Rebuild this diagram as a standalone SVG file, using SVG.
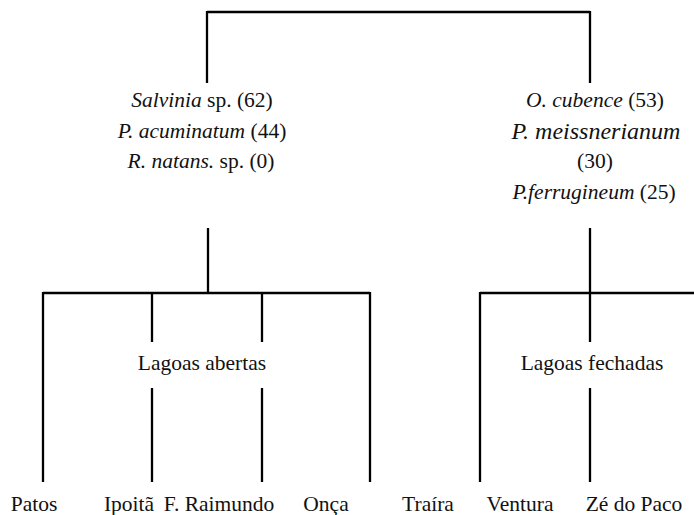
<svg xmlns="http://www.w3.org/2000/svg" width="694" height="515" viewBox="0 0 694 515">
<style>
.t text{font-size:21.5px;fill:#111;text-anchor:middle}
.i{font-style:italic}
.c line{stroke:#000;stroke-width:2.3;fill:none}
</style>
<rect width="694" height="515" fill="#fff"/>
<g class="c" id="connectors">
<line x1="207" y1="12" x2="590" y2="12"/>
<line x1="207" y1="11" x2="207" y2="83"/>
<line x1="590" y1="11" x2="590" y2="83"/>
<line x1="208" y1="228" x2="208" y2="293"/>
<line x1="43" y1="293" x2="370" y2="293"/>
<line x1="43" y1="292" x2="43" y2="482"/>
<line x1="370" y1="292" x2="370" y2="482"/>
<line x1="152" y1="293" x2="152" y2="342"/>
<line x1="262" y1="293" x2="262" y2="342"/>
<line x1="152" y1="388" x2="152" y2="482"/>
<line x1="262" y1="388" x2="262" y2="482"/>
<line x1="590" y1="228" x2="590" y2="342"/>
<line x1="480" y1="293" x2="694" y2="293"/>
<line x1="480" y1="292" x2="480" y2="482"/>
<line x1="590" y1="388" x2="590" y2="482"/>
</g>
<g class="t" font-family="Liberation Serif, Times New Roman, serif">
<g id="grupo-abertas">
<text x="202" y="107"><tspan class="i">Salvinia</tspan> sp. (62)</text>
<text x="202" y="138"><tspan class="i">P. acuminatum</tspan> (44)</text>
<text x="201" y="168"><tspan class="i">R. natans.</tspan> sp. (0)</text>
</g>
<g id="grupo-fechadas">
<text x="595" y="107"><tspan class="i">O. cubence</tspan> (53)</text>
<text x="596" y="139" class="i" style="font-size:24px">P. meissnerianum</text>
<text x="595" y="168">(30)</text>
<text x="594" y="199"><tspan class="i">P.ferrugineum</tspan> (25)</text>
</g>
<g id="lagoas-abertas"><text x="202" y="370">Lagoas abertas</text></g>
<g id="lagoas-fechadas"><text x="592" y="370">Lagoas fechadas</text></g>
<g id="patos"><text x="34" y="511">Patos</text></g>
<g id="ipoita"><text x="129" y="511">Ipoitã</text></g>
<g id="f-raimundo"><text x="219" y="511">F. Raimundo</text></g>
<g id="onca"><text x="326" y="511">Onça</text></g>
<g id="traira"><text x="428" y="511">Traíra</text></g>
<g id="ventura"><text x="520" y="511">Ventura</text></g>
<g id="ze-do-paco"><text x="634" y="511">Zé do Paco</text></g>
</g>
</svg>
